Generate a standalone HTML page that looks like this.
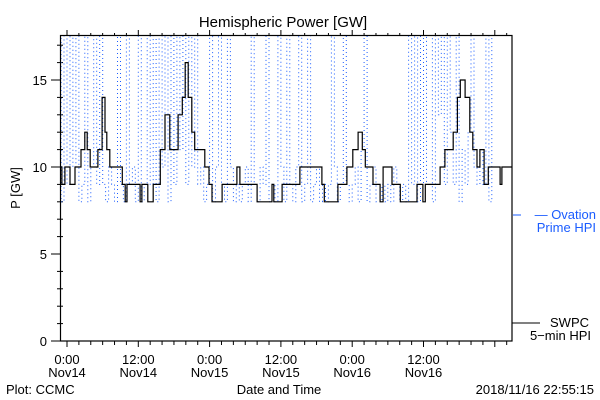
<!DOCTYPE html>
<html><head><meta charset="utf-8"><style>
body{margin:0;background:#fff;}
svg{display:block;font-family:"Liberation Sans","DejaVu Sans",sans-serif;}
</style></head><body>
<svg id="chart" width="600" height="400" viewBox="0 0 600 400">
<rect width="600" height="400" fill="#fff"/>
<text x="283" y="27" font-size="15" text-anchor="middle">Hemispheric Power [GW]</text>
<text transform="translate(20,188) rotate(-90)" font-size="13" text-anchor="middle">P [GW]</text>
<text x="279" y="394" font-size="13" text-anchor="middle">Date and Time</text>
<text x="6" y="394" font-size="13">Plot: CCMC</text>
<text x="594" y="394" font-size="13" text-anchor="end">2018/11/16 22:55:15</text>
<g id="axes"></g>
<g id="series"></g>
<rect x="60.5" y="35.5" width="451.5" height="305.5" fill="none" stroke="#000" stroke-width="1.2"/>
<line x1="513" y1="215" x2="521" y2="215" stroke="#1a5cff" stroke-width="1"/>
<text x="596" y="219" font-size="13" fill="#1a5cff" text-anchor="end">— Ovation</text>
<text x="596" y="232" font-size="13" fill="#1a5cff" text-anchor="end">Prime HPI</text>
<line x1="512" y1="323" x2="540" y2="323" stroke="#000" stroke-width="1"/>
<text x="589" y="327" font-size="13" text-anchor="end">SWPC</text>
<text x="591" y="340" font-size="13" text-anchor="end">5−min HPI</text>
</svg>
<script>
const xTickHours = [0, 12, 24, 36, 48, 60];
const xTickTimes = ["0:00", "12:00", "0:00", "12:00", "0:00", "12:00"];
const xTickDays = ["Nov14", "Nov14", "Nov15", "Nov15", "Nov16", "Nov16"];
const yTicks = [0, 5, 10, 15];
const swpcHours = [-1.2,-0.85,-0.35,0.5,1.35,2.35,3.0,3.4,3.9,5.2,5.9,6.4,6.7,7.2,9.3,9.8,10.1,12.3,12.6,13.6,14.5,15.7,16.5,17.3,18.7,19.4,19.9,20.4,21.0,21.5,23.2,23.9,24.4,26.1,28.6,29.1,32.0,34.5,34.8,36.2,39.2,42.9,43.3,45.6,47.1,48.1,49.0,49.7,50.2,51.5,52.7,53.2,54.7,56.1,58.9,59.9,60.3,62.8,63.6,65.0,65.7,66.2,67.0,67.8,68.3,69.0,69.5,70.2,70.9,72.9,73.2,74.6];
const swpcValues = [10,9,10,9,10,11,12,11,10,11,14,12,11,10,9,8,9,8,9,8,9,11,13,11,13,14,16,14,12,11,10,9,8,9,10,9,8,9,8,9,10,9,8,9,10,11,12,11,10,9,8,10,9,8,9,8,9,10,11,12,14,15,14,12,11,10,11,9,10,9,10,10];
const ovStartHour = -1.5;
const ovStepHours = 0.5;
const ovValues = [20,8,20,9,20,10,20,8,9,20,8,10,20,9,20,9,8,10,9,8,20,9,8,20,9,10,8,20,8,9,20,9,20,8,20,10,20,8,20,9,20,11,20,9,20,10,20,9,10,8,9,20,8,10,20,9,8,20,10,8,9,8,9,10,8,20,9,8,10,9,20,8,9,8,20,10,8,20,9,8,10,20,8,9,20,8,9,10,8,9,8,9,20,10,8,9,20,9,8,9,10,8,11,20,8,9,10,8,8,9,8,9,8,10,9,8,9,8,20,9,20,8,20,9,20,20,8,20,13,20,9,20,12,9,20,8,11,9,12,20,10,9,11,9,20,8,20,20];
const NS = "http://www.w3.org/2000/svg";
const X0 = 67, PXH = 71.3 / 12, Y0 = 341, PXU = 17.4;
const xs = h => X0 + h * PXH;
const ys = v => Y0 - v * PXU;
const axes = document.getElementById("axes");
const series = document.getElementById("series");
function mk(tag, attrs, parent) {
  const el = document.createElementNS(NS, tag);
  for (const k in attrs) el.setAttribute(k, attrs[k]);
  parent.appendChild(el);
  return el;
}
const defs = mk("defs", {}, series);
const cp = mk("clipPath", {id: "plotclip"}, defs);
mk("rect", {x: 61, y: 36, width: 451, height: 305}, cp);
for (let v = 0; v <= 17; v++) {
  const major = v % 5 === 0;
  const t = mk("line", {x1: major ? 51 : 57, x2: major ? 61 : 63, y1: ys(v), y2: ys(v), stroke: "#000"}, axes);
  
  
}
yTicks.forEach(v => {
  const t = mk("text", {x: 47, y: ys(v) + 5, "font-size": 13, "text-anchor": "end"}, axes);
  t.textContent = v;
  
  
});
for (let h = 0; h <= 74; h += 2) {
  const major = h % 12 === 0;
  const t = mk("line", {x1: xs(h), x2: xs(h), y1: 341, y2: major ? 347 : 345, stroke: "#000"}, axes);
  
  
  const tt = mk("line", {x1: xs(h), x2: xs(h), y1: 35, y2: major ? 30 : 33, stroke: "#000"}, axes);
  
  
}
xTickHours.forEach((h, i) => {
  const t1 = mk("text", {x: xs(h), y: 364, "font-size": 13, "text-anchor": "middle"}, axes);
  t1.textContent = xTickTimes[i];
  
  
  const t2 = mk("text", {x: xs(h), y: 377, "font-size": 13, "text-anchor": "middle"}, axes);
  t2.textContent = xTickDays[i];
  
  
});
// ovation dotted step line (vertical dotted columns)
let d = "";
ovValues.forEach((v, i) => {
  const x = xs(ovStartHour + i * ovStepHours).toFixed(1), y = ys(v).toFixed(1);
  if (i === 0) d += "M" + x + "," + y;
  else d += "H" + x + "V" + y;
});
const ov = mk("path", {d: d, fill: "none", stroke: "#1a5cff", "stroke-width": 1, "stroke-dasharray": "1,3", "clip-path": "url(#plotclip)"}, series);


let d2 = "";
swpcHours.forEach((h, i) => {
  const y = ys(swpcValues[i]).toFixed(1);
  if (i === 0) d2 += "M" + xs(-1.6).toFixed(1) + "," + y;
  else d2 += "V" + y;
  const nx = i + 1 < swpcHours.length ? xs(swpcHours[i + 1]) : 512;
  d2 += "H" + nx.toFixed(1);
});
const sw = mk("path", {d: d2, fill: "none", stroke: "#000", "stroke-width": 1.2, "clip-path": "url(#plotclip)"}, series);


</script>
</body></html>
